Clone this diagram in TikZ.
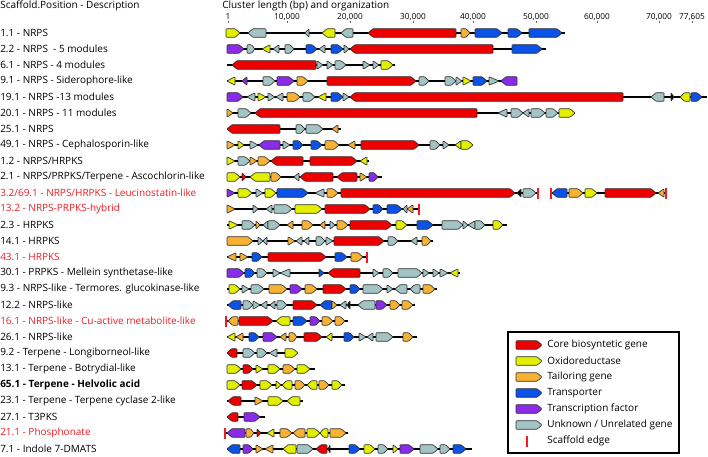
\documentclass[tikz,border=0pt]{standalone}
\usepackage{fontspec}
\setmainfont{Open Sans}
\definecolor{gR}{HTML}{EE0000}
\definecolor{gY}{HTML}{E2F000}
\definecolor{gO}{HTML}{F7B234}
\definecolor{gB}{HTML}{0A52E8}
\definecolor{gP}{HTML}{8A2BEA}
\definecolor{gG}{HTML}{A3C4C4}
\definecolor{lred}{HTML}{EE1C25}
\tikzset{
  gene/.style={draw=black!80, line width=0.5pt, line join=round, rounded corners=0.6pt},
  bb/.style={line width=1.2pt, black},
  sedgest/.style={line width=1.1pt, lred},
  lab/.style={font=\fontsize{7.5}{9}\selectfont, inner sep=0pt, anchor=west},
  ax/.style={font=\fontsize{6.2}{7}\selectfont, inner sep=0pt},
  tick/.style={line width=0.4pt, black!60}
}
\newcommand\gh{4.3}
\newcommand\rowline[3]{\def\ry{#1}\draw[bb] (#2,\ry) -- (#3,\ry);}
\newcommand\ga[4]{%
  \pgfmathsetmacro\gTp{min(5,(#2-#1)*0.45)}%
  \ifnum#3>0
    \draw[gene,fill=#4] (#1,\ry-\gh) -- (#2-\gTp,\ry-\gh) -- (#2,\ry) -- (#2-\gTp,\ry+\gh) -- (#1,\ry+\gh) -- cycle;
  \else
    \draw[gene,fill=#4] (#2,\ry-\gh) -- (#1+\gTp,\ry-\gh) -- (#1,\ry) -- (#1+\gTp,\ry+\gh) -- (#2,\ry+\gh) -- cycle;
  \fi}
\newcommand\gt[4]{%
  \ifnum#3>0
    \draw[gene,fill=#4] (#1,\ry-\gh) -- (#2,\ry) -- (#1,\ry+\gh) -- cycle;
  \else
    \draw[gene,fill=#4] (#2,\ry-\gh) -- (#1,\ry) -- (#2,\ry+\gh) -- cycle;
  \fi}
\newcommand\sedge[1]{\draw[sedgest] (#1,\ry-5.5) -- (#1,\ry+5.5);}
\begin{document}
\begin{tikzpicture}[x=0.75pt,y=-0.75pt]
\useasboundingbox (0,0) rectangle (708,457);
% headers
\node[lab] (h1) at (0,6) {Scaffold.Position - Description};
\node[lab] (h2) at (222,6) {Cluster length (bp) and organization};
% axis
\foreach \xx/\tt [count=\i] in {228/1,287/{10,000},350/{20,000},413/{30,000},473/{40,000},536/{50,000},597/{60,000},659/{70,000},692/{77,605}}{
  \node[ax] (ax\i) at (\xx,17) {\tt};
  \draw[tick] (\xx,20.5) -- (\xx,23);
}
% labels
\node[lab] (l1) at (0,33) {1.1 - NRPS};
\node[lab] (l2) at (0,49) {2.2 - NRPS\ \ - 5 modules};
\node[lab] (l3) at (0,65) {6.1 - NRPS - 4 modules};
\node[lab] (l4) at (0,81) {9.1 - NRPS - Siderophore-like};
\node[lab] (l5) at (0,97) {19.1 - NRPS -13 modules};
\node[lab] (l6) at (0,113) {20.1 - NRPS - 11 modules};
\node[lab] (l7) at (0,129) {25.1 - NRPS};
\node[lab] (l8) at (0,145) {49.1 - NRPS - Cephalosporin-like};
\node[lab] (l9) at (0,161) {1.2 - NRPS/HRPKS};
\node[lab] (l10) at (0,177) {2.1 - NRPS/PRPKS/Terpene - Ascochlorin-like};
\node[lab,text=lred] (l11) at (0,193) {3.2/69.1 - NRPS/HRPKS - Leucinostatin-like};
\node[lab,text=lred] (l12) at (0,209) {13.2 - NRPS-PRPKS-hybrid};
\node[lab] (l13) at (0,225) {2.3 - HRPKS};
\node[lab] (l14) at (0,241) {14.1 - HRPKS};
\node[lab,text=lred] (l15) at (0,257) {43.1 - HRPKS};
\node[lab] (l16) at (0,273) {30.1 - PRPKS - Mellein synthetase-like};
\node[lab] (l17) at (0,289) {9.3 - NRPS-like - Termores. glucokinase-like};
\node[lab] (l18) at (0,305) {12.2 - NRPS-like};
\node[lab,text=lred] (l19) at (0,321) {16.1 - NRPS-like - Cu-active metabolite-like};
\node[lab] (l20) at (0,337) {26.1 - NRPS-like};
\node[lab] (l21) at (0,353) {9.2 - Terpene - Longiborneol-like};
\node[lab] (l22) at (0,369) {13.1 - Terpene - Botrydial-like};
\node[lab,font=\fontsize{7.5}{9}\selectfont\bfseries] (l23) at (0,385) {65.1 - Terpene - Helvolic acid};
\node[lab] (l24) at (0,401) {23.1 - Terpene - Terpene cyclase 2-like};
\node[lab] (l25) at (0,417) {27.1 - T3PKS};
\node[lab,text=lred] (l26) at (0,433) {21.1 - Phosphonate};
\node[lab] (l27) at (0,449) {7.1 - Indole 7-DMATS};
% row 1.1
\rowline{33}{227}{565}
\ga{226}{240}{1}{gY}\ga{248}{266}{-1}{gG}\gt{305}{309}{-1}{gG}\ga{322}{335}{-1}{gY}\ga{341}{353}{-1}{gG}
\ga{368}{456}{-1}{gR}\ga{461}{470}{1}{gO}\ga{475}{502}{1}{gB}\ga{508}{522}{1}{gB}\ga{529}{562}{1}{gB}
% row 2.2
\rowline{49}{227}{546}
\ga{227}{244}{1}{gP}\ga{247}{255}{1}{gG}\gt{262}{270}{-1}{gY}\gt{273}{279}{-1}{gG}\ga{285}{294}{1}{gG}
\ga{306}{317}{1}{gB}\gt{319}{325}{-1}{gG}\ga{331}{343}{1}{gB}\gt{344}{349}{1}{gG}\ga{350}{493}{-1}{gR}\ga{512}{542}{1}{gB}
% row 6.1
\rowline{65}{227}{395}
\ga{232}{316}{-1}{gR}\gt{317}{323}{1}{gG}\gt{327}{333}{1}{gG}\ga{335}{346}{1}{gG}\gt{363}{370}{1}{gG}\gt{373}{379}{1}{gG}\ga{381}{393}{1}{gY}
% row 9.1
\rowline{81}{227}{517}
\gt{227}{235}{-1}{gY}\gt{242}{247}{-1}{gP}\ga{263}{275}{1}{gG}\ga{277}{294}{1}{gP}\ga{297}{308}{1}{gO}
\ga{327}{416}{1}{gR}\ga{419}{429}{1}{gG}\ga{445}{456}{1}{gG}\gt{456}{462}{1}{gG}\gt{463}{471}{1}{gY}
\ga{473}{487}{1}{gB}\gt{489}{499}{1}{gG}\ga{501}{517}{-1}{gP}
% row 19.1
\rowline{97}{227}{707}
\ga{227}{243}{1}{gP}\gt{247}{255}{-1}{gG}\gt{258}{266}{1}{gY}\gt{268}{275}{1}{gG}\gt{276}{283}{-1}{gG}
\ga{287}{300}{1}{gO}\ga{303}{315}{1}{gG}\gt{318}{326}{-1}{gY}\ga{331}{343}{1}{gB}\gt{343}{349}{1}{gG}
\ga{350}{623}{-1}{gR}\ga{651}{664}{-1}{gG}\gt{671}{674}{1}{black}\ga{680}{690}{-1}{gY}\ga{691}{702}{1}{gB}
% row 20.1
\rowline{113}{227}{575}
\gt{227}{233}{1}{gO}\ga{238}{251}{1}{gG}\ga{255}{477}{-1}{gR}\gt{498}{507}{-1}{gG}\ga{511}{523}{1}{gG}
\gt{523}{529}{-1}{gG}\ga{531}{545}{1}{gG}\ga{546}{558}{1}{gG}\ga{559}{575}{1}{gY}
% row 25.1
\rowline{129}{227}{341}
\ga{227}{280}{-1}{gR}\ga{296}{305}{1}{gG}\ga{306}{323}{1}{gG}\gt{332}{338}{-1}{gO}
% row 49.1
\rowline{145}{227}{473}
\gt{227}{235}{1}{gO}\gt{238}{244}{1}{gY}\gt{250}{258}{1}{gG}\ga{259}{280}{-1}{gP}\gt{283}{290}{1}{gG}
\ga{293}{303}{1}{gB}\ga{311}{322}{1}{gB}\ga{325}{339}{1}{gO}\gt{348}{355}{-1}{gO}\ga{361}{419}{1}{gR}
\ga{430}{440}{1}{gG}\gt{443}{449}{1}{gG}\gt{455}{461}{-1}{gY}\ga{461}{473}{1}{gY}
% row 1.2
\rowline{161}{227}{369}
\gt{227}{235}{1}{gY}\ga{238}{250}{1}{gG}\gt{250}{257}{1}{gO}\ga{258}{270}{1}{gO}\ga{271}{303}{-1}{gR}
\ga{310}{357}{1}{gR}\gt{360}{367}{-1}{gY}
% row 2.1
\rowline{177}{227}{382}
\ga{227}{240}{1}{gY}\gt{242}{246}{1}{gR}\ga{250}{270}{-1}{gY}\ga{271}{281}{1}{gO}\gt{294}{299}{-1}{gG}
\ga{300}{333}{-1}{gR}\ga{337}{357}{-1}{gR}\gt{360}{367}{1}{gO}\ga{369}{378}{1}{gP}
% row 3.2/69.1
\rowline{193}{227}{538}
\draw[bb] (551,\ry) -- (666,\ry);
\gt{227}{235}{1}{gP}\ga{238}{252}{1}{gY}\gt{256}{263}{1}{gG}\ga{265}{276}{1}{gY}\ga{277}{308}{1}{gB}
\gt{315}{324}{-1}{gG}\ga{327}{338}{1}{gO}\ga{341}{515}{1}{gR}\gt{517}{521}{-1}{black}\ga{523}{536}{1}{gG}
\sedge{538}\sedge{551}
\ga{552}{567}{-1}{gB}\ga{569}{583}{1}{gO}\ga{585}{597}{1}{gY}\ga{605}{656}{1}{gR}\gt{658}{664}{-1}{gO}
\sedge{666}
% row 13.2
\rowline{209}{227}{419}
\gt{227}{235}{1}{gO}\gt{253}{258}{1}{gG}\gt{266}{272}{-1}{gG}\ga{274}{292}{1}{gG}\ga{295}{322}{1}{gY}
\ga{325}{370}{1}{gR}\ga{373}{383}{1}{gB}\ga{387}{402}{1}{gB}\gt{403}{407}{-1}{gG}\gt{407}{413}{-1}{gO}
\sedge{419}
% row 2.3
\rowline{225}{227}{507}
\gt{229}{238}{1}{gY}\ga{242}{255}{1}{gG}\gt{256}{260}{1}{gO}\gt{263}{268}{-1}{gG}\ga{268}{280}{1}{gG}
\gt{287}{293}{-1}{gO}\ga{302}{313}{1}{gO}\gt{320}{325}{-1}{gO}\gt{330}{335}{1}{gG}\ga{337}{348}{1}{gO}
\ga{350}{392}{1}{gR}\ga{396}{407}{1}{gY}\ga{417}{433}{1}{gB}\ga{442}{463}{1}{gG}\gt{463}{468}{1}{gG}
\gt{468}{475}{-1}{gG}\ga{475}{485}{1}{gG}\ga{493}{503}{1}{gY}
% row 14.1
\rowline{241}{227}{433}
\ga{227}{253}{1}{gO}\gt{258}{263}{1}{gG}\gt{263}{267}{-1}{gG}\gt{288}{295}{1}{gO}\gt{296}{302}{-1}{gG}
\gt{304}{309}{-1}{gG}\ga{316}{325}{1}{gG}\gt{326}{333}{1}{gG}\ga{334}{384}{1}{gR}\ga{388}{398}{1}{gG}
\gt{411}{417}{-1}{gG}\ga{422}{431}{1}{gO}
% row 43.1
\rowline{257}{227}{367}
\gt{227}{236}{-1}{gO}\gt{240}{248}{1}{gO}\ga{252}{262}{1}{gB}\ga{268}{326}{1}{gR}\ga{335}{347}{1}{gB}
\ga{351}{363}{1}{gO}\sedge{367}
% row 30.1
\rowline{273}{227}{460}
\ga{227}{244}{1}{gP}\ga{245}{255}{1}{gB}\ga{257}{267}{1}{gG}\gt{273}{280}{1}{gG}\gt{280}{290}{-1}{gG}
\gt{319}{324}{1}{gB}\ga{328}{360}{-1}{gR}\gt{373}{379}{1}{gG}\ga{383}{393}{1}{gG}\ga{398}{422}{1}{gG}
\gt{423}{429}{1}{gG}\gt{433}{439}{1}{gG}\gt{440}{448}{1}{gG}\gt{450}{458}{-1}{gY}
% row 9.3
\rowline{289}{227}{437}
\ga{229}{240}{1}{gY}\gt{242}{249}{1}{gG}\ga{251}{264}{1}{gG}\ga{269}{287}{1}{gO}\ga{290}{302}{1}{gP}
\ga{305}{317}{1}{gO}\ga{323}{346}{1}{gR}\ga{350}{360}{1}{gB}\ga{363}{383}{1}{gG}\gt{387}{393}{1}{gG}
\ga{395}{407}{-1}{gG}\ga{410}{420}{-1}{gG}\ga{423}{435}{1}{gO}
% row 12.2
\rowline{305}{227}{415}
\ga{228}{241}{-1}{gB}\ga{243}{253}{1}{gG}\gt{253}{260}{1}{gG}\gt{261}{267}{-1}{gG}\gt{270}{275}{-1}{gG}
\ga{277}{287}{1}{gG}\ga{293}{317}{1}{gR}\ga{320}{332}{-1}{gB}\gt{332}{337}{1}{gO}\gt{340}{346}{-1}{gG}
\gt{347}{350}{-1}{black}\ga{358}{375}{-1}{gG}\ga{376}{387}{1}{gP}\ga{390}{400}{1}{gO}\ga{402}{413}{1}{gO}
% row 16.1
\rowline{321}{226}{348}
\sedge{226}
\ga{228}{238}{-1}{gO}\ga{239}{273}{1}{gR}\ga{276}{290}{-1}{gY}\ga{293}{307}{1}{gB}\ga{310}{320}{1}{gP}
\ga{322}{333}{1}{gO}\ga{335}{345}{1}{gO}
% row 26.1
\rowline{337}{227}{417}
\gt{227}{235}{-1}{gY}\gt{236}{243}{-1}{gO}\ga{249}{259}{1}{gB}\ga{263}{277}{1}{gP}\gt{280}{286}{-1}{gO}
\ga{289}{297}{1}{gO}\ga{304}{322}{1}{gR}\gt{326}{332}{-1}{gY}\ga{344}{354}{1}{gB}\gt{359}{366}{1}{gG}
\gt{367}{373}{-1}{gG}\ga{376}{393}{1}{gG}\ga{403}{413}{1}{gO}
% row 9.2
\rowline{353}{227}{298}
\ga{227}{237}{-1}{gR}\ga{243}{255}{1}{gG}\ga{257}{267}{1}{gG}\gt{269}{277}{-1}{gG}\ga{285}{298}{1}{gY}
% row 13.1
\rowline{369}{227}{315}
\ga{227}{241}{1}{gY}\ga{243}{253}{1}{gR}\gt{256}{263}{1}{gY}\ga{268}{280}{1}{gY}\ga{283}{295}{1}{gO}\ga{297}{310}{1}{gY}
% row 65.1
\rowline{385}{227}{345}
\ga{227}{240}{1}{gY}\ga{242}{257}{1}{gR}\ga{260}{272}{1}{gY}\gt{276}{281}{1}{gY}\ga{282}{292}{-1}{gY}
\ga{295}{305}{1}{gO}\ga{307}{317}{-1}{gY}\ga{319}{329}{1}{gO}\ga{332}{342}{1}{gY}
% row 23.1
\rowline{401}{227}{303}
\ga{228}{241}{-1}{gR}\gt{255}{263}{1}{gO}\ga{268}{283}{1}{gY}\ga{287}{300}{-1}{gY}
% row 27.1
\rowline{417}{227}{265}
\ga{227}{238}{-1}{gR}\ga{244}{260}{1}{gP}
% row 21.1
\rowline{433}{225}{348}
\sedge{225}
\ga{227}{245}{-1}{gP}\ga{246}{254}{1}{gO}\gt{257}{261}{1}{gR}\gt{267}{274}{-1}{gY}\ga{280}{292}{1}{gO}
\ga{293}{305}{-1}{gO}\ga{307}{320}{1}{gY}\ga{320}{328}{-1}{gY}\ga{330}{346}{1}{gO}
% row 7.1
\rowline{449}{227}{472}
\ga{227}{240}{-1}{gB}\ga{243}{253}{1}{gP}\gt{256}{263}{1}{gO}\gt{265}{273}{-1}{gO}\ga{283}{296}{-1}{gY}
\ga{297}{313}{1}{gG}\ga{316}{327}{-1}{gR}\gt{328}{330}{-1}{black}\ga{349}{360}{1}{gB}\ga{364}{375}{1}{gY}
\ga{378}{388}{1}{gG}\gt{393}{398}{1}{gY}\ga{400}{414}{1}{gP}\ga{420}{438}{1}{gG}\ga{440}{450}{1}{gG}\ga{453}{466}{1}{gB}
% legend
\draw[line width=0.8pt] (508,332) rectangle (679,453);
\foreach \yy/\cc/\tx [count=\i] in {345/gR/{Core biosyntetic gene},361/gY/{Oxidoreductase},377/gO/{Tailoring gene},393/gB/{Transporter},409/gP/{Transcription factor},425/gG/{Unknown / Unrelated gene}}{
  \def\ry{\yy}
  \ga{516}{542}{1}{\cc}
  \node[lab] (leg\i) at (547,\yy) {\tx};
}
\def\ry{441}
\sedge{527}
\node[lab] (leg7) at (547,441) {Scaffold edge};
\end{tikzpicture}
\end{document}
